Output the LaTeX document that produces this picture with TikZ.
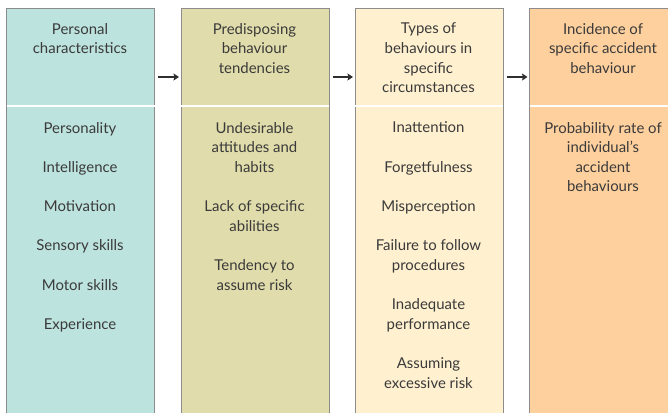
\documentclass[tikz,border=0pt]{standalone}
\usepackage{fontspec}
\setmainfont{Lato}
\usepackage{xcolor}
\usetikzlibrary{arrows.meta,calc}
\definecolor{accteal}{HTML}{BDE3DE}
\definecolor{accolive}{HTML}{E0DCAB}
\definecolor{acccream}{HTML}{FFF0CF}
\definecolor{accpeach}{HTML}{FED09E}
\definecolor{accgrey}{HTML}{8C8C8C}
\definecolor{accink}{HTML}{3A3A3A}
\newcommand{\skipline}{\\[19.7bp]}

\begin{document}
\begin{tikzpicture}[x=1bp,y=-1bp,
  colbox/.style={draw=accgrey, line width=1.1bp, anchor=north west, minimum width=148bp, minimum height=420bp, inner sep=0pt},
  coltext/.style={anchor=north, align=center, inner sep=0pt, text=accink, font=\fontsize{15}{19.7}\selectfont, execute at begin node=\strut},
  divider/.style={white, line width=1.2bp},
  flow/.style={-{Stealth[length=5.5bp,width=7bp,inset=1bp]}, line width=1.7bp, draw=black!82, shorten <=3bp, shorten >=1.5bp}]
  \useasboundingbox (0,0) rectangle (668,412);
  \clip (0,0) rectangle (668,412);

  % Columns
  \node[colbox, fill=accteal] (c1) at (6,8) {};
  \node[colbox, fill=accolive] (c2) at (180.5,8) {};
  \node[colbox, fill=acccream] (c3) at (354.5,8) {};
  \node[colbox, fill=accpeach] (c4) at (529,8) {};

  % Dividers between heading and items
  \coordinate (divrow) at (0,106);
  \draw[divider] ([xshift=0.6bp]c1.west |- divrow) -- ([xshift=-0.6bp]c1.east |- divrow);
  \draw[divider] ([xshift=0.6bp]c2.west |- divrow) -- ([xshift=-0.6bp]c2.east |- divrow);
  \draw[divider] ([xshift=0.6bp]c3.west |- divrow) -- ([xshift=-0.6bp]c3.east |- divrow);
  \draw[divider] ([xshift=0.6bp]c4.west |- divrow) -- ([xshift=-0.6bp]c4.east |- divrow);

  % Headings
  \node[coltext] (h1) at (80,22.8) {Personal\\characteristics};
  \node[coltext] (h2) at (254.5,22.8) {Predisposing\\behaviour\\tendencies};
  \node[coltext] (h3) at (428.5,22.8) {Types of\\behaviours in\\specific\\circumstances};
  \node[coltext] (h4) at (603,22.8) {Incidence of\\specific accident\\behaviour};

  % Items
  \node[coltext] (b1) at (80,121.8) {Personality\skipline Intelligence\skipline Motivation\skipline Sensory skills\skipline Motor skills\skipline Experience};
  \node[coltext] (b2) at (254.5,121.8) {Undesirable\\attitudes and\\habits\skipline Lack of specific\\abilities\skipline Tendency to\\assume risk};
  \node[coltext] (b3) at (428.5,121.8) {Inattention\skipline Forgetfulness\skipline Misperception\skipline Failure to follow\\procedures\skipline Inadequate\\performance\skipline Assuming\\excessive risk};
  \node[coltext] (b4) at (603,121.8) {Probability rate of\\individual's\\accident\\behaviours};

  % Arrows
  \coordinate (flowrow) at (0,77);
  \draw[flow] (c1.east |- flowrow) -- (c2.west |- flowrow);
  \draw[flow] (c2.east |- flowrow) -- (c3.west |- flowrow);
  \draw[flow] (c3.east |- flowrow) -- (c4.west |- flowrow);
\end{tikzpicture}
\end{document}
